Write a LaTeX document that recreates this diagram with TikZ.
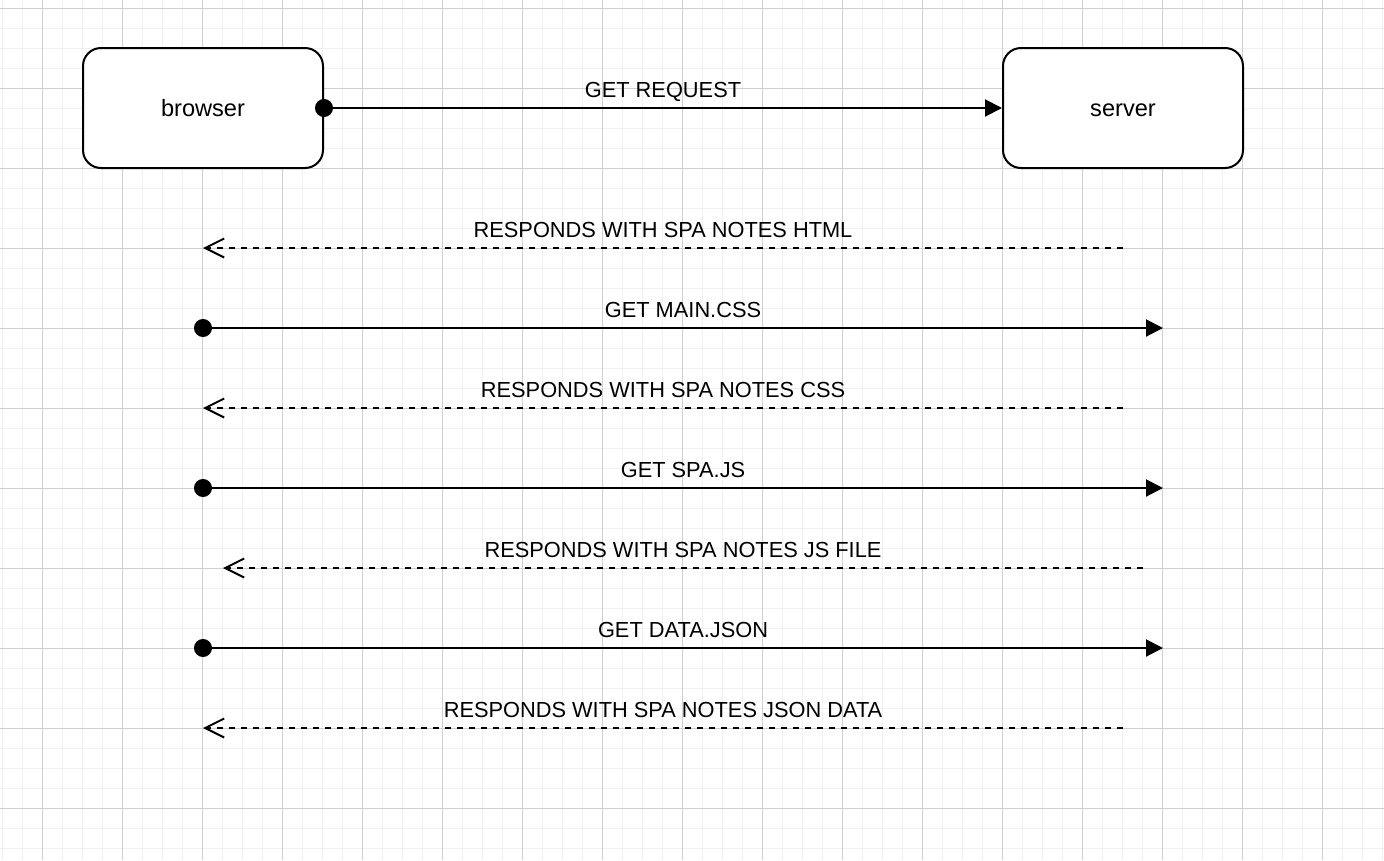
\documentclass[tikz,border=0pt]{standalone}
\usepackage{fontspec}
\setmainfont{Liberation Sans}
\usetikzlibrary{arrows.meta}
\definecolor{gridmajor}{HTML}{D0D0D0}
\definecolor{gridminor}{HTML}{F0F0F0}
\tikzset{
  actor/.style={draw=black, line width=2pt, rounded corners=18pt, minimum width=240pt, minimum height=120pt, fill=white, inner sep=0pt, text height=17pt, text depth=0pt, font=\fontsize{23.6}{28}\selectfont},
  reqline/.style={line width=2pt, {Circle[length=18pt]}-{Triangle[length=17pt,width=17pt]}, shorten <=-9pt},
  respline/.style={line width=2pt, dash pattern=on 6pt off 6pt, -{Straight Barb[length=19pt,width=19pt,line width=2pt]}},
  lbl/.style={midway, anchor=base, yshift=11pt, inner sep=0pt, font=\fontsize{21.8}{26}\selectfont}
}
\begin{document}
\begin{tikzpicture}[x=1pt,y=-1pt]
\useasboundingbox (0,0) rectangle (1384,860);
\fill[white] (0,0) rectangle (1384,860);
% minor grid
\foreach \x in {2,22,...,1382} \draw[gridminor, line width=1pt] (\x,0) -- (\x,860);
\foreach \y in {8,28,...,860} \draw[gridminor, line width=1pt] (0,\y) -- (1384,\y);
% major grid
\foreach \x in {42,122,...,1382} \draw[gridmajor, line width=1pt] (\x,0) -- (\x,860);
\foreach \y in {8,88,...,860} \draw[gridmajor, line width=1pt] (0,\y) -- (1384,\y);

\node[actor] (browser) at (203,108) {browser};
\node[actor] (server) at (1123,108) {server};

\coordinate (s1) at (1123,248); \coordinate (b1) at (203,248);
\coordinate (b2) at (203,328);  \coordinate (s2) at (1163,328);
\coordinate (s3) at (1123,408); \coordinate (b3) at (203,408);
\coordinate (b4) at (203,488);  \coordinate (s4) at (1163,488);
\coordinate (s5) at (1143,568); \coordinate (b5) at (223,568);
\coordinate (b6) at (203,648);  \coordinate (s6) at (1163,648);
\coordinate (s7) at (1123,728); \coordinate (b7) at (203,728);

\draw[reqline] (browser.east) -- (server.west) node[lbl] {GET REQUEST};
\draw[respline] (s1) -- (b1) node[lbl] {RESPONDS WITH SPA NOTES HTML};
\draw[reqline] (b2) -- (s2) node[lbl] {GET MAIN.CSS};
\draw[respline] (s3) -- (b3) node[lbl] {RESPONDS WITH SPA NOTES CSS};
\draw[reqline] (b4) -- (s4) node[lbl] {GET SPA.JS};
\draw[respline] (s5) -- (b5) node[lbl] {RESPONDS WITH SPA NOTES JS FILE};
\draw[reqline] (b6) -- (s6) node[lbl] {GET DATA.JSON};
\draw[respline] (s7) -- (b7) node[lbl] {RESPONDS WITH SPA NOTES JSON DATA};
\end{tikzpicture}
\end{document}
